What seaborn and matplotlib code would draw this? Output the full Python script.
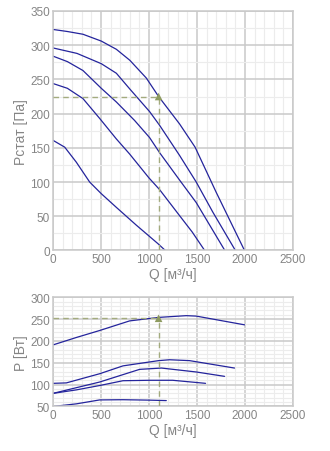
import matplotlib
matplotlib.use("Agg")
import matplotlib.pyplot as plt
import seaborn as sns
from matplotlib.ticker import MultipleLocator

# ---- data: static pressure curves (Q [m3/h], Pstat [Pa]) ----
q1 = [0, 150, 312, 503, 660, 800, 972, 1100, 1318, 1480, 1700, 1995]
p1 = [323, 320, 316, 306, 294, 278, 252, 225, 185, 151, 85, 0]
q2 = [0, 250, 503, 660, 800, 1006, 1110, 1318, 1492, 1665, 1900]
p2 = [296, 288, 273, 259, 236, 203, 183, 139, 100, 56, 0]
q3 = [0, 150, 312, 503, 660, 850, 1006, 1110, 1318, 1492, 1790]
p3 = [284, 276, 263, 237, 217, 190, 165, 143, 103, 70, 0]
q4 = [0, 150, 312, 486, 660, 798, 1000, 1110, 1318, 1450, 1580]
p4 = [244, 237, 222, 193, 163, 141, 106, 89, 51, 27, 0]
q5 = [0, 122, 243, 382, 503, 660, 868, 1093, 1170]
p5 = [161, 151, 129, 100, 83, 63, 37, 10, 0]

# ---- data: power curves (Q [m3/h], P [W]) ----
wq1 = [0, 243, 486, 798, 1100, 1388, 1492, 1995]
wp1 = [191, 208, 224, 246, 254, 258, 257, 237]
wq2 = [0, 139, 486, 729, 1100, 1214, 1422, 1891]
wp2 = [103, 104, 125, 143, 155, 157, 155, 138]
wq3 = [0, 486, 902, 1130, 1492, 1787]
wp3 = [80, 106, 135, 138, 129, 119]
wq4 = [0, 243, 486, 729, 1006, 1246, 1589]
wp4 = [80, 88, 98, 109, 110, 110, 103]
wq5 = [0, 243, 486, 729, 1006, 1180]
wp5 = [50, 56, 65, 65.5, 64.5, 63.5]

# operating point
op_q = [1100]
op_p = [225]
op_w = [252]

x_ticks = [0, 500, 1000, 1500, 2000, 2500]
top_yticks = [0, 50, 100, 150, 200, 250, 300, 350]
bot_yticks = [50, 100, 150, 200, 250, 300]
xlabel = "Q [м³/ч]"
top_ylabel = "Pстат [Па]"
bot_ylabel = "P [Вт]"

sns.set_style("white")
plt.rcParams['font.family'] = ['Liberation Sans', 'DejaVu Sans']

LINE = "#24249c"
TXT = "#858585"
MAJ = "#c9c9c9"
MIN = "#ececec"
OP = "#a3ab7e"
OPM = "#8e9b60"

fig = plt.figure(figsize=(3.30, 4.52), dpi=100)
ax1 = fig.add_axes([0.1606, 0.4436, 0.7273, 0.5299])
ax2 = fig.add_axes([0.1606, 0.0985, 0.7273, 0.2415])

def style(ax, yticks, ymin, ymax, yminor, ylabel):
    ax.set_xlim(0, 2500)
    ax.set_ylim(ymin, ymax)
    ax.set_xticks(x_ticks)
    ax.set_yticks(yticks)
    ax.xaxis.set_minor_locator(MultipleLocator(100))
    ax.yaxis.set_minor_locator(MultipleLocator(yminor))
    ax.grid(which='major', color=MAJ, linewidth=1.1, zorder=0)
    ax.grid(which='minor', color=MIN, linewidth=0.8, zorder=0)
    ax.set_axisbelow(True)
    for s in ax.spines.values():
        s.set_color(MAJ)
        s.set_linewidth(1.1)
    ax.tick_params(which='both', length=0, labelsize=8.5, colors=TXT, pad=2)
    ax.set_xlabel(xlabel, color=TXT, fontsize=10, labelpad=1)
    ax.set_ylabel(ylabel, color=TXT, fontsize=10, labelpad=2)

curves_top = [(q1, p1), (q2, p2), (q3, p3), (q4, p4), (q5, p5)]
for q, p in curves_top:
    sns.lineplot(x=q, y=p, ax=ax1, color=LINE, linewidth=0.9, estimator=None, sort=False)
ax1.plot([0, op_q[0]], [op_p[0], op_p[0]], ls=(0, (4, 3)), color=OP, lw=1.0, zorder=3)
ax1.plot([op_q[0], op_q[0]], [0, op_p[0]], ls=(0, (4, 3)), color=OP, lw=1.0, zorder=3)
sns.scatterplot(x=op_q, y=op_p, ax=ax1, marker='^', color=OPM, s=30, edgecolor='none', zorder=4)
style(ax1, top_yticks, 0, 350, 25, top_ylabel)

curves_bot = [(wq1, wp1), (wq2, wp2), (wq3, wp3), (wq4, wp4), (wq5, wp5)]
for q, p in curves_bot:
    sns.lineplot(x=q, y=p, ax=ax2, color=LINE, linewidth=0.9, estimator=None, sort=False)
ax2.plot([0, op_q[0]], [op_w[0], op_w[0]], ls=(0, (4, 3)), color=OP, lw=1.0, zorder=3)
ax2.plot([op_q[0], op_q[0]], [50, op_w[0]], ls=(0, (4, 3)), color=OP, lw=1.0, zorder=3)
sns.scatterplot(x=op_q, y=op_w, ax=ax2, marker='^', color=OPM, s=30, edgecolor='none', zorder=4)
style(ax2, bot_yticks, 50, 300, 10, bot_ylabel)

fig.savefig("out.png", dpi=100, facecolor="white")
